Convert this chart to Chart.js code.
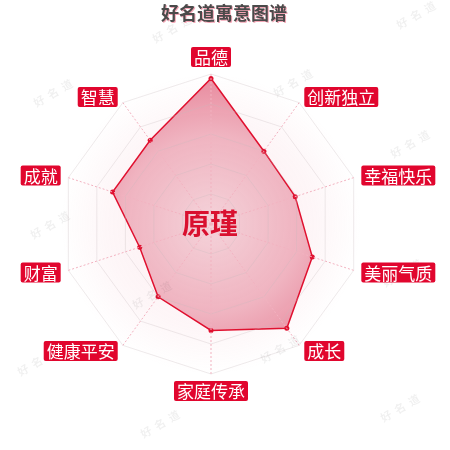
<!DOCTYPE html>
<html>
<head>
<meta charset="utf-8">
<title>好名道寓意图谱</title>
<script src="https://cdn.jsdelivr.net/npm/chart.js@4.4.1/dist/chart.umd.min.js"></script>
<style>
  html, body { margin: 0; padding: 0; background: #fff; }
  #wrap { position: relative; width: 450px; height: 450px; }
</style>
</head>
<body>
<div id="wrap"><canvas id="nameChart" width="450" height="450"></canvas></div>
<script>
// chart data
const categories = ['品德', '创新独立', '幸福快乐', '美丽气质', '成长', '家庭传承', '健康平安', '财富', '成就', '智慧'];
const scores = [97, 60, 59, 71, 86, 71, 60, 50, 69, 69];
const scaleMin = 0;
const scaleMax = 100;
const scaleStep = 20;
const chartTitle = '好名道寓意图谱';
const nameText = '原瑾';
const watermark = '好名道';
const watermarkSpots = [[416, 15], [172, 29], [53, 93], [293, 83], [410, 144], [50, 225],
  [152, 295], [37, 362], [280, 349], [402, 273], [160, 424], [400, 408]];

const FONT = "'Noto Sans CJK SC', 'Noto Sans', sans-serif";

// background glow, category boxes, title, watermark, centre name
const decorPlugin = {
  id: 'decor',
  beforeDatasetsDraw(chart) {
    const ctx = chart.ctx;
    const r = chart.scales.r;
    const bg = ctx.createRadialGradient(r.xCenter, r.yCenter, 0, r.xCenter, r.yCenter, r.drawingArea);
    bg.addColorStop(0, 'rgba(236,130,152,0.16)');
    bg.addColorStop(0.7, 'rgba(236,130,152,0.07)');
    bg.addColorStop(1, 'rgba(236,130,152,0)');
    ctx.save();
    ctx.fillStyle = bg;
    ctx.beginPath();
    ctx.arc(r.xCenter, r.yCenter, r.drawingArea, 0, Math.PI * 2);
    ctx.fill();
    ctx.restore();
  },
  afterDraw(chart) {
    const ctx = chart.ctx;
    const r = chart.scales.r;
    ctx.save();

    // watermarks, spaced out glyphs on a slant
    ctx.font = 'bold 11px ' + FONT;
    ctx.fillStyle = 'rgba(0,0,0,0.06)';
    ctx.textAlign = 'center';
    ctx.textBaseline = 'middle';
    watermarkSpots.forEach(function (p) {
      ctx.save();
      ctx.translate(p[0], p[1]);
      ctx.rotate(-Math.PI / 6);
      for (let k = 0; k < watermark.length; k++) {
        ctx.fillText(watermark[k], (k - 1) * 16, 0);
      }
      ctx.restore();
    });

    // category labels in red boxes
    ctx.font = '17px ' + FONT;
    const boxH = 20, padX = 3;
    categories.forEach(function (label, i) {
      const pos = r.getPointPosition(i, r.drawingArea + 7);
      const w = ctx.measureText(label).width + padX * 2;
      const dx = pos.x - r.xCenter;
      let left, top;
      if (Math.abs(dx) < 1) {
        left = pos.x - w / 2;
        top = pos.y < r.yCenter ? pos.y - boxH : pos.y;
      } else {
        left = dx > 0 ? pos.x + 1 : pos.x - 1 - w;
        top = pos.y - boxH / 2;
      }
      ctx.fillStyle = '#e1062e';
      ctx.beginPath();
      ctx.roundRect(left, top, w, boxH, 2);
      ctx.fill();
      ctx.fillStyle = '#ffffff';
      ctx.fillText(label, left + w / 2, top + boxH / 2 + 1);
    });

    // title
    ctx.font = 'bold 18px ' + FONT;
    ctx.fillStyle = '#f4a6b6';
    ctx.fillText(chartTitle, 225, 14);
    ctx.fillStyle = '#4a4a4a';
    ctx.fillText(chartTitle, 224, 13);

    // name in the middle
    ctx.font = 'bold 28px ' + FONT;
    ctx.fillStyle = '#d9102f';
    ctx.fillText(nameText, r.xCenter - 1, r.yCenter - 1);
    ctx.restore();
  }
};

const ctx = document.getElementById('nameChart').getContext('2d');
new Chart(ctx, {
  type: 'radar',
  data: {
    labels: categories,
    datasets: [{
      data: scores,
      backgroundColor: function (c) {
        const r = c.chart.scales.r;
        if (!r || !r.drawingArea) return 'rgba(232,140,158,0.8)';
        const g = c.chart.ctx.createRadialGradient(r.xCenter, r.yCenter, 0, r.xCenter, r.yCenter, r.drawingArea);
        g.addColorStop(0, 'rgba(244,210,217,0.95)');
        g.addColorStop(0.6, 'rgba(238,172,186,0.9)');
        g.addColorStop(1, 'rgba(230,124,146,0.9)');
        return g;
      },
      borderColor: '#e0102f',
      borderWidth: 1.5,
      pointRadius: 2.5,
      pointBackgroundColor: '#e0102f',
      pointBorderWidth: 0,
      fill: true
    }]
  },
  options: {
    responsive: false,
    animation: false,
    layout: { padding: { left: 61, right: 89, top: 74, bottom: 76 } },
    plugins: {
      legend: { display: false },
      tooltip: { enabled: false }
    },
    scales: {
      r: {
        min: scaleMin,
        max: scaleMax,
        ticks: { display: false, stepSize: scaleStep },
        grid: {
          z: 1,
          color: 'rgba(200,185,190,0.3)',
          borderDash: [1, 3]
        },
        angleLines: {
          color: '#f2b2c0',
          borderDash: [2, 2],
          lineWidth: 1
        },
        pointLabels: { display: false }
      }
    }
  },
  plugins: [decorPlugin]
});
</script>
</body>
</html>
